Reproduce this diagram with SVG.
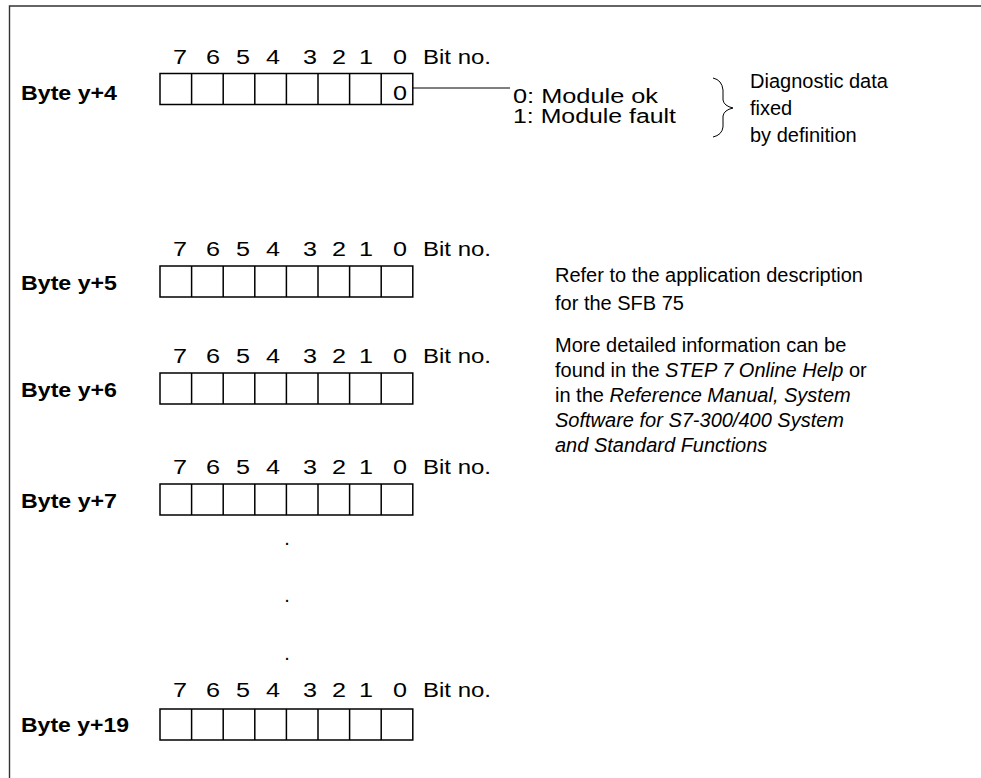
<svg xmlns="http://www.w3.org/2000/svg" xmlns:xlink="http://www.w3.org/1999/xlink" width="981" height="778" viewBox="0 0 981 778">
<style>
text{font-family:"Liberation Sans",Arial,sans-serif;font-size:20px;fill:#000}
.lb{font-weight:bold}
.d{text-anchor:middle}
.it{font-style:italic}
.cell{fill:#fff;stroke:#000;stroke-width:1.5}
.frame{stroke:#333;stroke-width:1.4;fill:none}
.con{stroke:#000;stroke-width:1;fill:none}
</style>
<defs>
<g id="byte">
<rect class="cell" x="0" y="0" width="252.8" height="31"/>
<path class="cell" d="M31.6 0V31M63.2 0V31M94.8 0V31M126.4 0V31M158 0V31M189.6 0V31M221.2 0V31"/>
</g>
<g id="bits">
<text class="d" x="180" y="0" textLength="14" lengthAdjust="spacingAndGlyphs">7</text>
<text class="d" x="213" y="0" textLength="14" lengthAdjust="spacingAndGlyphs">6</text>
<text class="d" x="243" y="0" textLength="14" lengthAdjust="spacingAndGlyphs">5</text>
<text class="d" x="273" y="0" textLength="14" lengthAdjust="spacingAndGlyphs">4</text>
<text class="d" x="310" y="0" textLength="14" lengthAdjust="spacingAndGlyphs">3</text>
<text class="d" x="339" y="0" textLength="14" lengthAdjust="spacingAndGlyphs">2</text>
<text class="d" x="366" y="0" textLength="14" lengthAdjust="spacingAndGlyphs">1</text>
<text class="d" x="400" y="0" textLength="14" lengthAdjust="spacingAndGlyphs">0</text>
<text x="423" y="0" textLength="68" lengthAdjust="spacingAndGlyphs">Bit no.</text>
</g>
</defs>
<rect width="981" height="778" fill="#fff"/>
<path class="frame" d="M9.5 778V6H981"/>

<g id="byte4">
<use xlink:href="#bits" href="#bits" transform="translate(0,64)"/>
<text class="lb" x="21" y="100" textLength="96" lengthAdjust="spacingAndGlyphs">Byte y+4</text>
<use xlink:href="#byte" href="#byte" x="160" y="73.5"/>
<text class="d" x="400" y="100" textLength="14" lengthAdjust="spacingAndGlyphs">0</text>
</g>

<g id="status">
<text x="513" y="103" textLength="145" lengthAdjust="spacingAndGlyphs">0: Module ok</text>
<text x="513" y="123" textLength="163" lengthAdjust="spacingAndGlyphs">1: Module fault</text>
</g>

<g id="note-fixed">
<path class="con" d="M713 78Q722 80 723 90V100Q724 106 733 108Q724 110 723 116V127Q722 135 713 137"/>
<text x="750" y="88">Diagnostic data</text>
<text x="750" y="115">fixed</text>
<text x="750" y="142">by definition</text>
</g>

<g id="byte5">
<use xlink:href="#bits" href="#bits" transform="translate(0,256)"/>
<text class="lb" x="21" y="290" textLength="96" lengthAdjust="spacingAndGlyphs">Byte y+5</text>
<use xlink:href="#byte" href="#byte" x="160" y="266"/>
</g>

<g id="byte6">
<use xlink:href="#bits" href="#bits" transform="translate(0,363)"/>
<text class="lb" x="21" y="397" textLength="96" lengthAdjust="spacingAndGlyphs">Byte y+6</text>
<use xlink:href="#byte" href="#byte" x="160" y="373"/>
</g>

<g id="byte7">
<use xlink:href="#bits" href="#bits" transform="translate(0,474)"/>
<text class="lb" x="21" y="508" textLength="96" lengthAdjust="spacingAndGlyphs">Byte y+7</text>
<use xlink:href="#byte" href="#byte" x="160" y="484"/>
</g>

<g id="ellipsis">
<text class="d" x="287" y="545">.</text>
<text class="d" x="287" y="602">.</text>
<text class="d" x="287" y="660">.</text>
</g>

<g id="byte19">
<use xlink:href="#bits" href="#bits" transform="translate(0,697)"/>
<text class="lb" x="21" y="732" textLength="108" lengthAdjust="spacingAndGlyphs">Byte y+19</text>
<use xlink:href="#byte" href="#byte" x="160" y="709"/>
</g>

<g id="note-sfb">
<text x="555" y="282">Refer to the application description</text>
<text x="555" y="310">for the SFB 75</text>
<text x="555" y="352">More detailed information can be</text>
<text x="555" y="377">found in the <tspan class="it">STEP 7 Online Help</tspan> or</text>
<text x="555" y="402">in the <tspan class="it">Reference Manual, System</tspan></text>
<text x="555" y="427" class="it">Software for S7-300/400 System</text>
<text x="555" y="452" class="it">and Standard Functions</text>
</g>

<g id="connectors">
<path class="con" d="M413 88H510"/>
</g>
</svg>
